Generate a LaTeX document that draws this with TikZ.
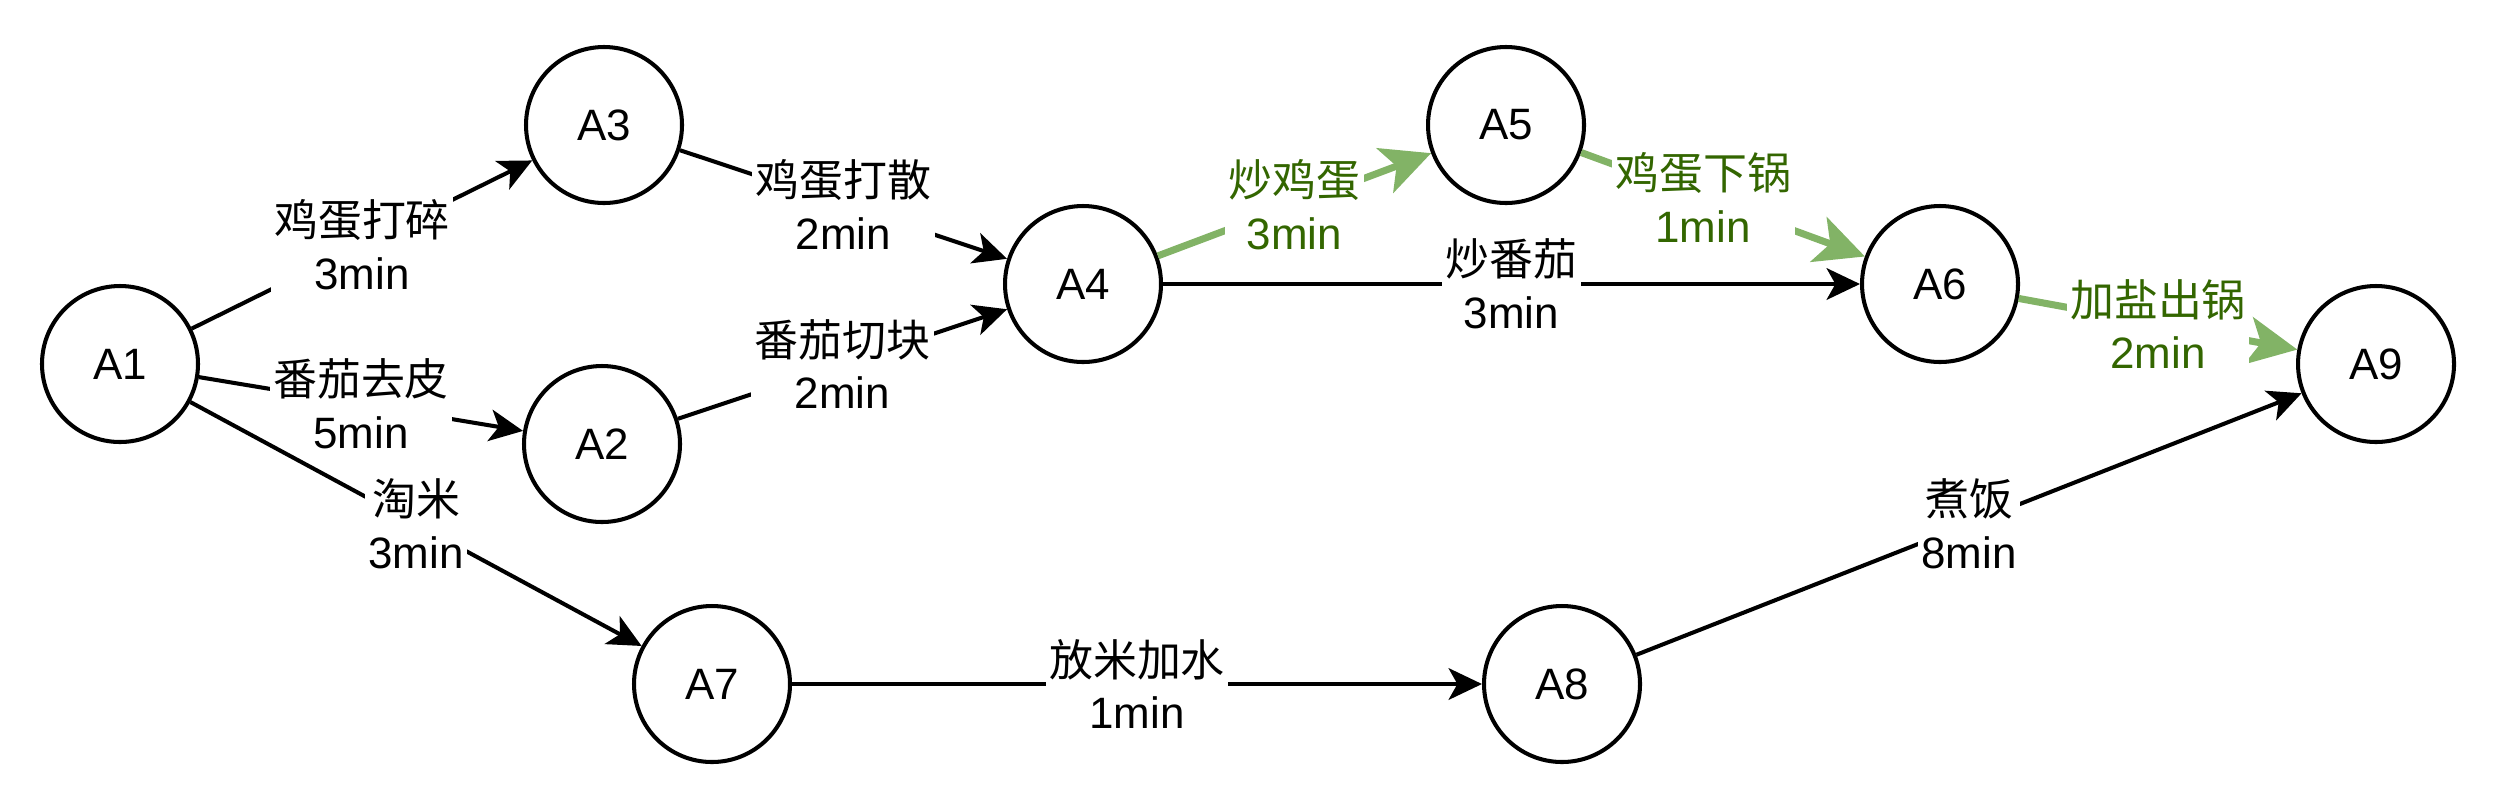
\documentclass[tikz,border=0pt]{standalone}
\usepackage{fontspec}
\setmainfont{Liberation Sans}
\newfontfamily\cjk{Noto Sans CJK SC}
\usepackage{tikz}
\usetikzlibrary{arrows.meta, positioning}
\definecolor{pathgreen}{HTML}{82B366}
\definecolor{textgreen}{HTML}{336600}
\tikzset{
    ->, % makes the edges directed
    >={Stealth[length=9.5pt, width=9pt, inset=2.5pt]},
    every node/.style={font=\fontsize{12.5}{15}\selectfont}, % one size for all texts
    event/.style={circle, draw, line width=1.15pt, minimum size=1.56cm, inner sep=0pt}, % the A nodes
    task/.style={fill=white, align=center, inner sep=1pt}, % label on an edge
}
\tikzset{critical/.style={
        draw=pathgreen, line width=2pt, -{Stealth[length=14pt, width=13.5pt, inset=3.5pt]},
    }
}
\tikzset{hottask/.style={task, text=textgreen}}

\begin{document}
\begin{tikzpicture}[line width=1.15pt]
        \useasboundingbox (0,0) rectangle (25.04,8.04);
        % Nodes
        \node[event] (A1) at (1.20,4.40) {A1};
        \node[event] (A3) at (6.04,6.79) {A3};
        \node[event] (A2) at (6.02,3.60) {A2};
        \node[event] (A4) at (10.83,5.20) {A4};
        \node[event] (A5) at (15.06,6.79) {A5};
        \node[event] (A6) at (19.40,5.20) {A6};
        \node[event] (A9) at (23.76,4.40) {A9};
        \node[event] (A7) at (7.12,1.20) {A7};
        \node[event] (A8) at (15.62,1.20) {A8};

        % Draw lines
        \draw
            (A1) edge node[task]{{\cjk 鸡蛋打碎}\\3min} (A3)
            (A1) edge node[task]{{\cjk 番茄去皮}\\5min} (A2)
            (A1) edge node[task]{{\cjk 淘米}\\3min} (A7)
            (A3) edge node[task]{{\cjk 鸡蛋打散}\\2min} (A4)
            (A2) edge node[task]{{\cjk 番茄切块}\\2min} (A4)
            (A4) edge node[task]{{\cjk 炒番茄}\\3min} (A6)
            (A7) edge node[task]{{\cjk 放米加水}\\1min} (A8)
            (A8) edge node[task]{{\cjk 煮饭}\\8min} (A9);

        % Green path
        \draw
            (A4) edge[critical] node[hottask]{{\cjk 炒鸡蛋}\\3min} (A5)
            (A5) edge[critical] node[hottask, pos=0.43]{{\cjk 鸡蛋下锅}\\1min} (A6)
            (A6) edge[critical] node[hottask]{{\cjk 加盐出锅}\\2min} (A9);
    \end{tikzpicture}
\end{document}
